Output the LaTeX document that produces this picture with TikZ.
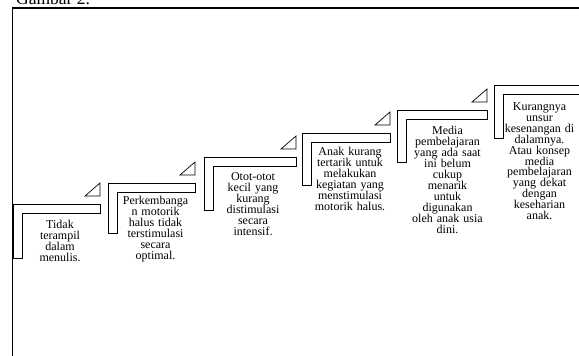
\documentclass[tikz,border=0pt]{standalone}
\usepackage{fontspec}
\setmainfont{Liberation Serif}
\begin{document}
\begin{tikzpicture}[x=1pt,y=-1pt,
  lshape/.style={draw=black,line width=0.7pt,fill=white},
  tri/.style={draw=black,line width=0.7pt},
  steptext/.style={font=\fontsize{12}{11}\selectfont,align=center,inner sep=0pt,anchor=base,text width=84pt},
  frameline/.style={line width=1.2pt}]
\useasboundingbox (0,0) rectangle (579,356);
\draw[frameline] (12.5,356) -- (12.5,8) -- (579,8);
\node[font=\fontsize{17.5}{17.5}\selectfont,anchor=base west,inner sep=0pt] (title) at (16,5) {Gambar 2.};
\foreach \x/\y/\w/\h in {13/204/87/54, 108/183/87/50, 204/157/92/53, 302/133/88/52, 397/110/90/52, 494/85/86/53}{
  \draw[lshape] (\x,\y) -- ++(\w,0) -- ++(0,9) -- ++(-\w+9,0) -- ++(0,\h-9) -- ++(-9,0) -- cycle;
}
\foreach \x/\y/\w in {13/204/87, 108/183/87, 204/157/92, 302/133/88, 397/110/90}{
  \draw[tri] (\x+\w,\y-8) -- ++(-15,0) -- ++(15,-13) -- cycle;
}
\node[steptext] (t1) at (60,228) {Tidak\\terampil\\dalam\\menulis.};
\node[steptext] (t2) at (155.5,204) {Perkembanga\\n motorik\\halus tidak\\terstimulasi\\secara\\optimal.};
\node[steptext] (t3) at (253,180) {Otot-otot\\kecil yang\\kurang\\distimulasi\\secara\\intensif.};
\node[steptext] (t4) at (350,155) {Anak kurang\\tertarik untuk\\melakukan\\kegiatan yang\\menstimulasi\\motorik halus.};
\node[steptext] (t5) at (447.5,134) {Media\\pembelajaran\\yang ada saat\\ini belum\\cukup\\menarik\\untuk\\digunakan\\oleh anak usia\\dini.};
\node[steptext] (t6) at (539.5,110) {Kurangnya\\unsur\\kesenangan di\\dalamnya.\\Atau konsep\\media\\pembelajaran\\yang dekat\\dengan\\keseharian\\anak.};
\end{tikzpicture}
\end{document}
